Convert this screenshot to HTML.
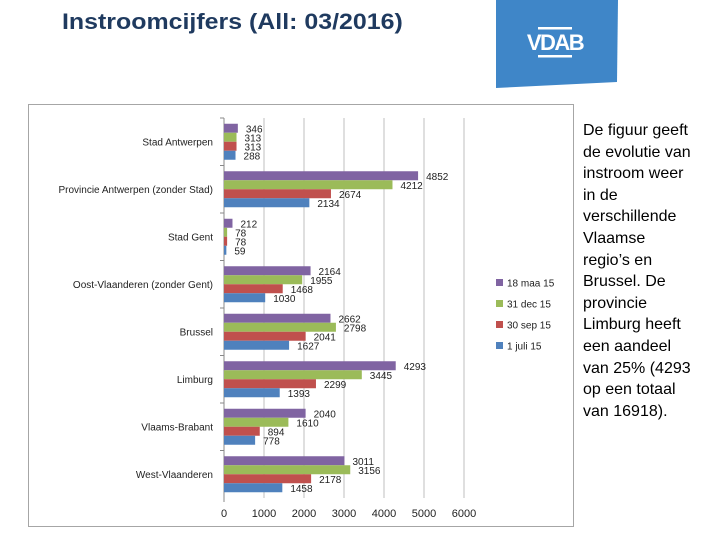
<!DOCTYPE html>
<html><head><meta charset="utf-8"><style>
body{margin:0;width:720px;height:540px;background:#fff;overflow:hidden;position:relative;font-family:"Liberation Sans",sans-serif}
#title{position:absolute;left:62px;top:9px;font-size:22px;font-weight:bold;color:#1f3a5f;white-space:nowrap;transform-origin:0 0}
#logo{position:absolute;left:496px;top:0;width:122px;height:88px}
#desc{position:absolute;left:583px;top:120px;width:136px;font-size:16px;line-height:21.6px;color:#000;white-space:nowrap}
svg text{font-family:"Liberation Sans",sans-serif}
</style></head><body>
<div id="title">Instroomcijfers (All: 03/2016)</div>
<svg id="logo" viewBox="0 0 122 88">
<polygon points="0,0 122,0 121,82 0,88" fill="#3f86c8"/>
<rect x="42" y="27" width="34" height="2.5" fill="#fff"/>
<rect x="42" y="55" width="34" height="2.5" fill="#fff"/>
<text x="59" y="50" text-anchor="middle" font-size="22" font-weight="bold" fill="#fff" letter-spacing="-1.5">VDAB</text>
</svg>
<div id="desc">De figuur geeft<br>de evolutie van<br>instroom weer<br>in de<br>verschillende<br>Vlaamse<br>regio’s en<br>Brussel. De<br>provincie<br>Limburg heeft<br>een aandeel<br>van 25% (4293<br>op een totaal<br>van 16918).</div>
<svg id="chart" width="720" height="540" style="position:absolute;left:0;top:0"></svg>
<script>
const categories=["Stad Antwerpen","Provincie Antwerpen (zonder Stad)","Stad Gent","Oost-Vlaanderen (zonder Gent)","Brussel","Limburg","Vlaams-Brabant","West-Vlaanderen"];
const seriesNames=["18 maa 15","31 dec 15","30 sep 15","1 juli 15"];
const seriesColors=["#8064a2","#9bbb59","#c0504d","#4f81bd"];
const maa15=[346,4852,212,2164,2662,4293,2040,3011];
const dec15=[313,4212,78,1955,2798,3445,1610,3156];
const sep15=[313,2674,78,1468,2041,2299,894,2178];
const jul15=[288,2134,59,1030,1627,1393,778,1458];
const xTicks=[0,1000,2000,3000,4000,5000,6000];
const series=[maa15,dec15,sep15,jul15];
const ttl=document.getElementById("title");
ttl.style.transform="scaleX("+(341/ttl.offsetWidth)+")";
const NS="http://www.w3.org/2000/svg";
const svg=document.getElementById("chart");
const X0=224,XMAX=6000,PW=240,Y0=118,Y1=498;
const band=(Y1-Y0)/categories.length;
const x=v=>X0+v/XMAX*PW;
function mk(t,a,p){const e=document.createElementNS(NS,t);for(const k in a)e.setAttribute(k,a[k]);(p||svg).appendChild(e);return e;}
const frame=mk("rect",{x:28.5,y:104.5,width:545,height:422,fill:"none",stroke:"#a6a6a6"});


xTicks.forEach(t=>{
  const g=mk("line",{x1:x(t),x2:x(t),y1:Y0,y2:Y1,stroke:t?"#bfbfbf":"#888","stroke-width":1});
  
  
  const l=mk("text",{x:x(t),y:517,"font-size":11,"text-anchor":"middle",fill:"#222"});
  l.textContent=t;
  
  
});
categories.forEach((c,i)=>{
  const top=Y0+i*band;
  const tk=mk("line",{x1:220,x2:224,y1:top,y2:top,stroke:"#888"});
  
  
  const l=mk("text",{x:213,y:top+band/2+3.5,"font-size":10,"text-anchor":"end",fill:"#222"});
  l.textContent=c;
  
  
  const bh=9,start=top+(band-4*bh)/2;
  series.forEach((s,j)=>{
    const v=s[i],y=start+j*bh;
    const r=mk("rect",{x:X0,y:y,width:x(v)-X0,height:bh,fill:seriesColors[j]});
    
    
    const vl=mk("text",{x:x(v)+8,y:y+8.5,"font-size":10,fill:"#222"});
    vl.textContent=v;
    
    
  });
});
mk("line",{x1:224,x2:224,y1:Y1,y2:Y1+4,stroke:"#888"});
seriesNames.forEach((n,j)=>{
  const y=283+j*21;
  const sq=mk("rect",{x:496,y:y-4,width:7,height:7,fill:seriesColors[j]});
  
  
  const t=mk("text",{x:507,y:y+3.5,"font-size":10,fill:"#222"});
  t.textContent=n;
  
  
});
</script>
</body></html>
